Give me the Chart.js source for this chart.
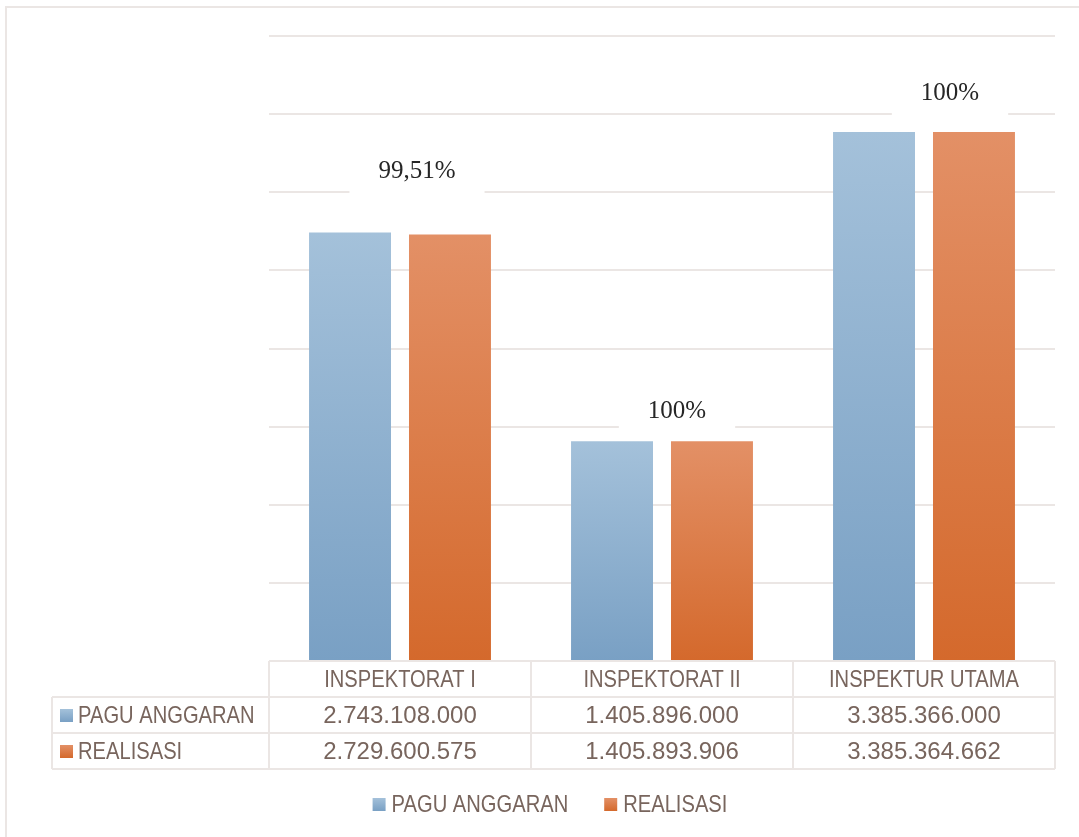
<!DOCTYPE html>
<html>
<head>
<meta charset="utf-8">
<script src="https://cdn.jsdelivr.net/npm/chart.js@4.4.1/dist/chart.umd.min.js"></script>
<style>
  html, body { margin: 0; padding: 0; background: #fff; }
  #wrap { width: 1079px; height: 837px; position: relative; }
</style>
</head>
<body>
<div id="wrap"><canvas id="grafik" width="1079" height="837"></canvas></div>
<script>
const kategori = ['INSPEKTORAT I', 'INSPEKTORAT II', 'INSPEKTUR UTAMA'];
const paguAnggaran = [2743108000, 1405896000, 3385366000];
const realisasi = [2729600575, 1405893906, 3385364662];
const persentase = ['99,51%', '100%', '100%'];

const WARNA_TEKS = '#78655d';
const WARNA_GARIS = '#ebe6e4';
const FONT_TEKS = '24px "Liberation Sans", Arial, sans-serif';
const SEMPIT = 0.84; // huruf dipersempit supaya mirip font asli

const seri = [
    { label: 'PAGU ANGGARAN', data: paguAnggaran, atas: '#a4c1da', bawah: '#79a0c4' },
    { label: 'REALISASI', data: realisasi, atas: '#e39066', bawah: '#d4692c' }
];

function formatAngka(n) {
    return String(n).replace(/\B(?=(\d{3})+(?!\d))/g, '.');
}

function gradienBatang(ctx, s) {
    const chart = ctx.chart;
    const y = chart.scales.y;
    if (!chart.chartArea || !y || ctx.dataIndex === undefined) return s.atas;
    const nilai = s.data[ctx.dataIndex];
    const yAtas = y.getPixelForValue(nilai);
    const yBawah = y.getPixelForValue(0);
    const g = chart.ctx.createLinearGradient(0, yAtas, 0, yBawah);
    g.addColorStop(0, s.atas);
    g.addColorStop(1, s.bawah);
    return g;
}

function kotakWarna(ctx, x, y, ukuran, s) {
    const g = ctx.createLinearGradient(0, y, 0, y + ukuran);
    g.addColorStop(0, s.atas);
    g.addColorStop(1, s.bawah);
    ctx.fillStyle = g;
    ctx.fillRect(x, y, ukuran, ukuran);
}

// tulis teks huruf dengan lebar dipersempit
function tulisSempit(ctx, teks, x, y, align) {
    ctx.save();
    ctx.font = FONT_TEKS;
    ctx.fillStyle = WARNA_TEKS;
    ctx.textBaseline = 'middle';
    ctx.textAlign = align;
    ctx.translate(x, y);
    ctx.scale(SEMPIT, 1);
    ctx.fillText(teks, 0, 0);
    ctx.restore();
}

function lebarSempit(ctx, teks) {
    ctx.save();
    ctx.font = FONT_TEKS;
    const w = ctx.measureText(teks).width * SEMPIT;
    ctx.restore();
    return w;
}

const pluginLabel = {
    id: 'labelPersen',
    afterDatasetsDraw(chart, args, opts) {
        const { ctx, scales: { x, y } } = chart;
        ctx.save();
        ctx.font = '25px "Liberation Serif", "DejaVu Serif", serif';
        ctx.textAlign = 'center';
        ctx.textBaseline = 'middle';
        persentase.forEach((teks, i) => {
            const tertinggi = Math.max(paguAnggaran[i], realisasi[i]);
            const cx = x.getPixelForValue(i) + opts.dx[i];
            const cy = y.getPixelForValue(tertinggi) + opts.dy[i];
            const lebar = ctx.measureText(teks).width + 58;
            ctx.fillStyle = '#ffffff';
            ctx.fillRect(cx - lebar / 2, cy - 24, lebar, 48);
            ctx.fillStyle = '#262626';
            ctx.fillText(teks, cx, cy);
        });
        ctx.restore();
    }
};

const pluginTabel = {
    id: 'tabelData',
    afterDraw(chart) {
        const { ctx, chartArea, scales: { x } } = chart;
        const kiri = chartArea.left;
        const kanan = chartArea.right;
        const atas = chartArea.bottom;
        const tinggiBaris = 36;
        const kolomAwal = 52;
        const lebarKolom = (kanan - kiri) / kategori.length;

        ctx.save();
        ctx.strokeStyle = WARNA_GARIS;
        ctx.lineWidth = 2;

        // garis horizontal tabel
        ctx.beginPath();
        ctx.moveTo(kiri, atas);
        ctx.lineTo(kanan, atas);
        for (let r = 1; r <= 3; r++) {
            ctx.moveTo(kolomAwal, atas + r * tinggiBaris);
            ctx.lineTo(kanan, atas + r * tinggiBaris);
        }
        // garis vertikal
        ctx.moveTo(kolomAwal, atas + tinggiBaris);
        ctx.lineTo(kolomAwal, atas + 3 * tinggiBaris);
        for (let c = 0; c <= kategori.length; c++) {
            const gx = kiri + c * lebarKolom;
            ctx.moveTo(gx, atas);
            ctx.lineTo(gx, atas + 3 * tinggiBaris);
        }
        ctx.stroke();

        // judul kolom
        kategori.forEach((k, i) => {
            tulisSempit(ctx, k, x.getPixelForValue(i), atas + tinggiBaris / 2 + 1, 'center');
        });

        // baris data
        seri.forEach((s, r) => {
            const cy = atas + (r + 1.5) * tinggiBaris + 1;
            ctx.font = FONT_TEKS;
            ctx.textAlign = 'center';
            ctx.textBaseline = 'middle';
            ctx.fillStyle = WARNA_TEKS;
            s.data.forEach((v, i) => {
                ctx.fillText(formatAngka(v), x.getPixelForValue(i), cy);
            });
            kotakWarna(ctx, 60, cy - 7, 13, s);
            tulisSempit(ctx, s.label, 78, cy, 'left');
        });

        // legenda bawah
        const jarak = 36;
        const lebarItem = seri.map(s => 13 + 6 + lebarSempit(ctx, s.label));
        const total = lebarItem.reduce((a, b) => a + b, 0) + jarak * (seri.length - 1);
        let lx = 550 - total / 2;
        const ly = 805;
        seri.forEach((s, i) => {
            kotakWarna(ctx, lx, ly - 7, 13, s);
            tulisSempit(ctx, s.label, lx + 19, ly, 'left');
            lx += lebarItem[i] + jarak;
        });

        // bingkai luar
        ctx.strokeStyle = WARNA_GARIS;
        ctx.lineWidth = 2;
        ctx.beginPath();
        ctx.moveTo(6, chart.height);
        ctx.lineTo(6, 7);
        ctx.lineTo(chart.width, 7);
        ctx.stroke();
        ctx.restore();
    }
};

new Chart(document.getElementById('grafik').getContext('2d'), {
    type: 'bar',
    data: {
        labels: kategori,
        datasets: seri.map(s => ({
            label: s.label,
            data: s.data,
            backgroundColor: ctx => gradienBatang(ctx, s),
            borderWidth: 0,
            categoryPercentage: 0.763,
            barPercentage: 0.82
        }))
    },
    options: {
        responsive: false,
        animation: false,
        layout: {
            padding: { left: 269, right: 24, top: 36, bottom: 176 }
        },
        plugins: {
            legend: { display: false },
            tooltip: { enabled: false },
            labelPersen: {
                dx: [17, 15, 26],
                dy: [-61, -30, -39]
            }
        },
        scales: {
            x: {
                display: false
            },
            y: {
                min: 0,
                max: 4000000000,
                ticks: { display: false, stepSize: 500000000 },
                border: { display: false },
                grid: { color: WARNA_GARIS, lineWidth: 2, drawTicks: false }
            }
        }
    },
    plugins: [pluginLabel, pluginTabel]
});
</script>
</body>
</html>
